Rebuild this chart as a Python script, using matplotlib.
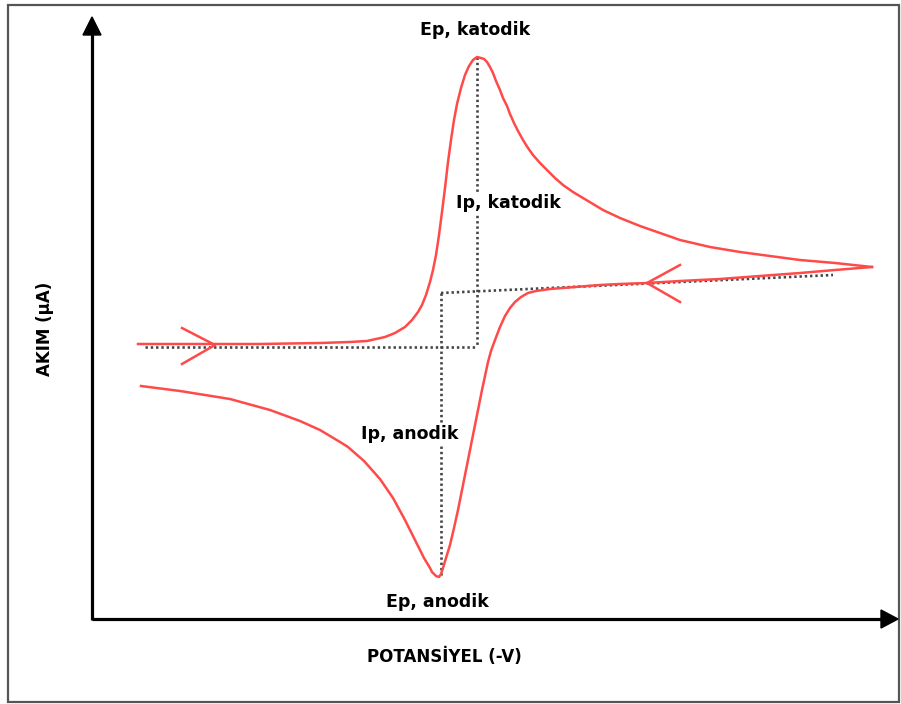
import matplotlib
matplotlib.use("Agg")
import matplotlib.pyplot as plt
from matplotlib.patches import Polygon, Rectangle

# curve points (pixel coords, y down)
fwd_x = [138, 200, 260, 320, 350, 367, 385, 395, 405, 412, 418, 422, 426, 430, 433, 436,
         439, 442, 445, 448, 451, 454, 457, 461, 465, 469, 473, 477, 481, 484, 487, 490,
         493, 496, 500, 503, 507, 510, 514, 518, 523, 528, 533, 540, 547, 555, 563, 573,
         583, 593, 603, 620, 640, 660, 680, 710, 740, 770, 800, 835, 872]
fwd_y = [344, 344, 344, 343, 342, 341, 337, 333, 327, 320, 312, 305, 295, 282, 270, 255,
         235, 212, 188, 162, 140, 120, 104, 88, 75, 66, 60, 57, 58, 59, 62, 67,
         73, 81, 90, 98, 106, 114, 123, 131, 140, 148, 155, 163, 170, 178, 185, 192,
         198, 204, 210, 218, 226, 233, 240, 247, 252, 256, 260, 263, 267]

rev_x = [872, 835, 800, 760, 720, 680, 647, 620, 600, 575, 550, 536, 528, 521, 515, 510,
         505, 500, 495, 491, 488, 485, 482, 478, 474, 470, 466, 462, 458, 454, 450, 446,
         443, 441, 439, 436, 432, 430, 424, 415, 405, 393, 380, 364, 348, 340, 320, 300,
         270, 230, 180, 141]
rev_y = [267, 270, 273, 276, 279, 281, 283, 284, 285, 287, 289, 291, 293, 297, 302, 308,
         316, 327, 340, 351, 362, 376, 390, 410, 430, 450, 470, 490, 510, 528, 545, 558,
         568, 574, 577, 576, 572, 568, 558, 540, 520, 498, 479, 461, 447, 442, 430, 421,
         410, 399, 391, 386]

# dotted guide lines
guide_lines = [
    ([145, 477], [347, 347]),
    ([477, 477], [57, 347]),
    ([441, 833], [293, 275]),
    ([441, 441], [293, 577]),
]

labels = [
    ("Ep, katodik", 475, 30, False),
    ("Ip, katodik", 508, 203, True),
    ("Ip, anodik", 410, 434, True),
    ("Ep, anodik", 437, 602, False),
]

red = "#ff4a4a"
fig = plt.figure(figsize=(9.01, 7.04), dpi=100)
ax = fig.add_axes([0, 0, 1, 1])
ax.set_xlim(0, 901)
ax.set_ylim(704, 0)
ax.axis("off")

# frame
ax.add_patch(Rectangle((8, 5), 891, 697, fill=False, ec="#555555", lw=1.6))

# axes with arrows
ax.plot([92, 92], [620, 30], color="black", lw=2.3, solid_capstyle="butt")
ax.plot([92, 885], [619, 619], color="black", lw=2.3, solid_capstyle="butt")
ax.add_patch(Polygon([(92, 17), (83, 35), (101, 35)], closed=True, color="black"))
ax.add_patch(Polygon([(898, 619), (881, 610), (881, 628)], closed=True, color="black"))

for gx, gy in guide_lines:
    ax.plot(gx, gy, color="#444444", lw=1.9, linestyle=(0, (0.9, 1.1)), zorder=2)

ax.plot(fwd_x, fwd_y, color=red, lw=1.8, zorder=3, solid_joinstyle="round")
ax.plot(rev_x, rev_y, color=red, lw=1.8, zorder=3, solid_joinstyle="round")

# open arrow heads on the curve
ax.plot([182, 215, 182], [328, 345, 364], color=red, lw=1.8, zorder=3)
ax.plot([680, 647, 680], [265, 283, 302], color=red, lw=1.8, zorder=3)

for txt, x, y, bg in labels:
    kw = {}
    if bg:
        kw["bbox"] = dict(fc="white", ec="none", pad=1.5)
    ax.text(x, y, txt, ha="center", va="center", fontsize=12.5,
            fontweight="bold", zorder=5, **kw)

ax.text(444, 657, "POTANSİYEL (-V)", ha="center", va="center", fontsize=12,
        fontweight="bold")
ax.text(45, 329, "AKIM (µA)", ha="center", va="center", fontsize=12,
        fontweight="bold", rotation=90)

fig.savefig("out.png", dpi=100)
